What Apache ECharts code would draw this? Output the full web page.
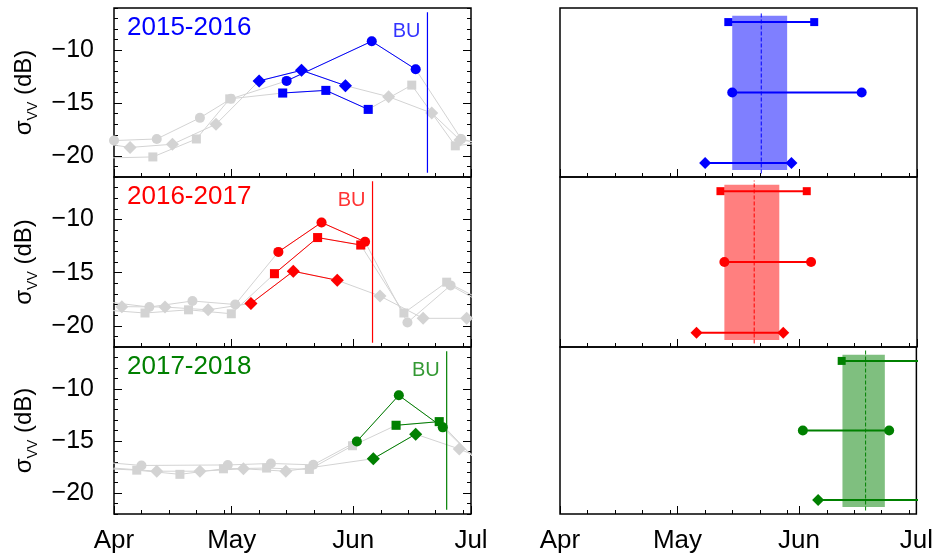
<!DOCTYPE html>
<html><head><meta charset="utf-8">
<script src="https://cdn.jsdelivr.net/npm/echarts@6/dist/echarts.min.js"></script>
<style>html,body{margin:0;padding:0;background:#fff}#c{width:936px;height:558px}</style>
</head><body><div id="c"></div>
<script>
// x values are days since 1 April
const monthTicks = [0, 30, 61, 91];
const monthLabels = ['Apr', 'May', 'Jun', 'Jul'];
const weekTicks = [7, 14, 21, 28, 37, 44, 51, 58, 68, 75, 82, 89];
const yMajorTicks = [-20, -15, -10];
const yMinorTicks = [-22, -21, -20, -19, -18, -17, -16, -15, -14, -13, -12, -11, -10, -9, -8, -7, -6];
const seasonNames = ['2015-2016', '2016-2017', '2017-2018'];

// 2015-2016
const circleDays15 = [0, 10.9, 21.9, 29.8, 44, 65.7, 76.9, 88.5, 100];
const circleVals15 = [-18.55, -18.4, -16.4, -14.6, -12.9, -9.15, -11.8, -18.4, -19.5];
const squareDays15 = [-2, 9.9, 21, 29.5, 43, 54, 64.8, 75.9, 87, 99];
const squareVals15 = [-20.2, -20.1, -18.4, -14.6, -14.05, -13.8, -15.6, -13.3, -19.05, -18.5];
const diamondDays15 = [-7, 4.1, 14.9, 26, 37, 47.8, 59, 70, 81, 88.2, 99];
const diamondVals15 = [-18.6, -19.2, -18.9, -17.0, -12.9, -11.9, -13.35, -14.4, -15.95, -18.5, -19];
const colored15 = [[4, 6], [4, 6], [4, 6]];

// 2016-2017
const circleDays16 = [-3, 9, 20, 30.9, 41.9, 52.9, 64, 74.8, 85.8, 97];
const circleVals16 = [-17.7, -18.24, -17.67, -18.0, -13.05, -10.28, -12.1, -19.7, -16.2, -18.5];
const squareDays16 = [-3, 7.9, 19, 29.9, 40.9, 51.9, 62.9, 73.9, 84.8, 96];
const squareVals16 = [-18.5, -18.8, -18.5, -18.87, -15.1, -11.7, -12.4, -18.8, -15.9, -18.0];
const diamondDays16 = [2, 13, 24, 34.9, 45.7, 56.9, 67.8, 78.8, 89.9, 100];
const diamondVals16 = [-18.2, -18.24, -18.5, -17.9, -14.87, -15.72, -17.2, -19.3, -19.3, -19.5];
const colored16 = [[4, 6], [4, 6], [3, 5]];

// 2017-2018
const circleDays17 = [-4, 7, 29, 40, 50.8, 61.9, 72.6, 83.8, 95];
const circleVals17 = [-17.0, -17.35, -17.3, -17.16, -17.29, -15.05, -10.63, -13.7, -17.8];
const squareDays17 = [-5.2, 5.8, 16.8, 27.9, 38.9, 49.8, 60.8, 71.9, 82.9, 94];
const squareVals17 = [-17.6, -17.8, -18.2, -17.67, -17.6, -17.73, -15.46, -13.5, -13.15, -17.5];
const diamondDays17 = [-0.1, 10.9, 21.9, 33, 43.8, 66.1, 76.9, 88, 99];
const diamondVals17 = [-17.6, -17.9, -17.9, -17.67, -17.9, -16.7, -14.35, -15.77, -17.5];
const colored17 = [[5, 7], [7, 8], [5, 6]];

const buDays = [79.9, 65.9, 84.8];

// right column: start/end days of each coloured window
const squareSpan = [[42.9, 64.8], [40.9, 62.9], [71.8, 95]];
const circleSpan = [[43.9, 76.9], [41.9, 64], [61.9, 83.9]];
const diamondSpan = [[37, 59], [34.8, 56.9], [65.8, 95]];
const buBand = [[43.9, 57.9], [41.9, 55.9], [72, 82.8]];
const buMean = [51.3, 49.5, 77.9];

// ---------- build ----------
const FONT = "'Liberation Sans', Arial, sans-serif";
const colors = ['#0000ff', '#ff0000', '#008000'];
const bandFill = ['rgba(0,0,255,0.5)', 'rgba(255,0,0,0.5)', 'rgba(0,128,0,0.5)'];
const grey = '#d3d3d3';
const rowTop = [8, 177, 347], rowH = [169, 170, 167];
const leftL = 114, rightL = 560, panelW = 357;
const titleTop = [14.7, 184.2, 353.7];

const seasons = [
  {days: [circleDays15, squareDays15, diamondDays15], vals: [circleVals15, squareVals15, diamondVals15], hi: colored15},
  {days: [circleDays16, squareDays16, diamondDays16], vals: [circleVals16, squareVals16, diamondVals16], hi: colored16},
  {days: [circleDays17, squareDays17, diamondDays17], vals: [circleVals17, squareVals17, diamondVals17], hi: colored17}
];
const shapes = ['circle', 'rect', 'diamond'];
const leftSizes = [10, 9, 13];
const rightSizes = [10, 8, 12];
const rowLevel = [1, 2, 0]; // circle middle, square top, diamond bottom

const grid = [], xAxis = [], yAxis = [], series = [], title = [];
function makeGrid(left, top, height, border) {
  grid.push({left, top, width: panelW, height, show: border, borderColor: '#000', borderWidth: 1.5, backgroundColor: 'transparent'});
  return grid.length - 1;
}
function xAx(gi, ticks, len, labels) {
  xAxis.push({
    gridIndex: gi, type: 'value', min: 0, max: 91, position: 'bottom',
    axisLine: {show: false, onZero: false}, splitLine: {show: false},
    axisTick: {show: true, inside: true, length: len, customValues: ticks, lineStyle: {color: '#000', width: 1}},
    axisLabel: labels ? {show: true, customValues: monthTicks, formatter: v => monthLabels[monthTicks.indexOf(v)],
      fontSize: 26, color: '#000', fontFamily: FONT, margin: 14} : {show: false}
  });
  return xAxis.length - 1;
}
function yAx(gi, pos, ticks, len, labels, showTicks) {
  const a = {
    gridIndex: gi, type: 'value', min: -22, max: -6, position: pos,
    axisLine: {show: false, onZero: false}, splitLine: {show: false},
    axisTick: {show: showTicks, inside: true, length: len, customValues: ticks, lineStyle: {color: '#000', width: 1}},
    axisLabel: labels ? {show: true, customValues: yMajorTicks, formatter: v => String(v).replace('-', '\u2212'),
      fontSize: 25, color: '#000', fontFamily: FONT, margin: 20} : {show: false}
  };
  if (labels) {
    a.name = '{s|\u03c3}{sub|VV}{s| (dB)}';
    a.nameLocation = 'middle';
    a.nameRotate = 90;
    a.nameGap = 74;
    a.nameTextStyle = {color: '#000', fontFamily: FONT, fontSize: 24, rich: {
      s: {fontSize: 24, fontFamily: FONT, color: '#000', lineHeight: 28, verticalAlign: 'top'},
      sub: {fontSize: 14, fontFamily: FONT, color: '#000', lineHeight: 14, verticalAlign: 'bottom'}
    }};
  }
  yAxis.push(a);
  return yAxis.length - 1;
}

for (let p = 0; p < 3; p++) {
  const isBottom = p === 2;
  const col = colors[p];
  // ---- left panel ----
  const gA = makeGrid(leftL, rowTop[p], rowH[p], true);
  const gB = makeGrid(leftL, rowTop[p], rowH[p], false);
  const xA = xAx(gA, monthTicks, 8, isBottom);
  xAx(gB, weekTicks, 4, false);
  const yA = yAx(gA, 'left', yMajorTicks, 8, true, true);
  yAx(gA, 'right', yMajorTicks, 8, false, true);
  yAx(gB, 'left', yMinorTicks, 4, false, true);
  yAx(gB, 'right', yMinorTicks, 4, false, true);
  const s = seasons[p];
  for (let k = 0; k < 3; k++) {
    const data = s.days[k].map((d, i) => [d, s.vals[k][i]]);
    series.push({type: 'line', xAxisIndex: xA, yAxisIndex: yA, data, symbol: shapes[k], symbolSize: leftSizes[k],
      showAllSymbol: true, lineStyle: {color: grey, width: 1}, itemStyle: {color: grey}, z: 2, silent: true, animation: false});
  }
  for (let k = 0; k < 3; k++) {
    const data = s.days[k].map((d, i) => [d, s.vals[k][i]]).slice(s.hi[k][0], s.hi[k][1] + 1);
    series.push({type: 'line', xAxisIndex: xA, yAxisIndex: yA, data, symbol: shapes[k], symbolSize: leftSizes[k],
      showAllSymbol: true, lineStyle: {color: col, width: 1}, itemStyle: {color: col}, z: 4, silent: true, animation: false});
  }
  series.push({type: 'line', xAxisIndex: xA, yAxisIndex: yA, data: [[buDays[p], -21.6], [buDays[p], -6.4]],
    showSymbol: false, lineStyle: {color: col, width: 1.2}, z: 3, silent: true, animation: false});
  series.push({type: 'scatter', xAxisIndex: xA, yAxisIndex: yA, data: [[buDays[p], -8.25]], symbolSize: 0,
    label: {show: true, position: 'left', distance: 7, formatter: 'BU', fontSize: 20, color: col, fontFamily: FONT},
    z: 5, silent: true, animation: false});
  title.push({text: seasonNames[p], left: 127, top: titleTop[p], padding: 0,
    textStyle: {fontSize: 26, fontWeight: 'normal', color: col, fontFamily: FONT}});

  // ---- right panel: tick grids (same set-up as the left panels, no series) ----
  const gC = makeGrid(rightL, rowTop[p], rowH[p], true);
  const gD = makeGrid(rightL, rowTop[p], rowH[p], false);
  xAx(gC, monthTicks, 8, isBottom);
  xAx(gD, weekTicks, 4, false);
  yAx(gC, 'left', yMajorTicks, 8, false, false);
  yAx(gD, 'left', yMinorTicks, 4, false, false);
  // ---- right panel: data grid (no visible axes) ----
  const gE = makeGrid(rightL, rowTop[p], rowH[p], false);
  xAxis.push({gridIndex: gE, type: 'value', min: 0, max: 91, show: false});
  const xE = xAxis.length - 1;
  yAxis.push({gridIndex: gE, type: 'value', min: -0.2, max: 2.2, show: false});
  const yE = yAxis.length - 1;
  series.push({type: 'line', xAxisIndex: xE, yAxisIndex: yE, data: [[buMean[p], 1]], showSymbol: false,
    lineStyle: {opacity: 0}, z: 1, silent: true, animation: false,
    markArea: {silent: true, itemStyle: {color: bandFill[p], borderWidth: 0},
      data: [[{xAxis: buBand[p][0], yAxis: -0.1}, {xAxis: buBand[p][1], yAxis: 2.09}]]}});
  series.push({type: 'line', xAxisIndex: xE, yAxisIndex: yE, data: [[buMean[p], -0.15], [buMean[p], 2.15]],
    showSymbol: false, lineStyle: {color: col, width: 1, type: [4, 2]}, z: 3, silent: true, animation: false});
  const spans = [circleSpan[p], squareSpan[p], diamondSpan[p]];
  for (let k = 0; k < 3; k++) {
    series.push({type: 'line', xAxisIndex: xE, yAxisIndex: yE,
      data: [[spans[k][0], rowLevel[k]], [spans[k][1], rowLevel[k]]], symbol: shapes[k], symbolSize: rightSizes[k],
      showAllSymbol: true, lineStyle: {color: col, width: 2}, itemStyle: {color: col}, z: 4, silent: true, animation: false});
  }
}

const chart = echarts.init(document.getElementById('c'), null, {renderer: 'canvas'});
chart.setOption({animation: false, backgroundColor: '#fff', title, grid, xAxis, yAxis, series});
</script></body></html>
